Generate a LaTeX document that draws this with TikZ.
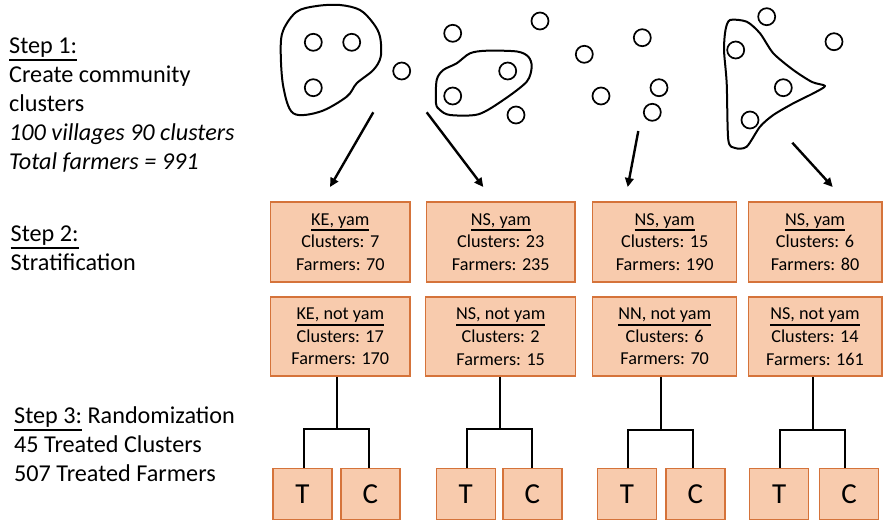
\documentclass[tikz,border=0pt]{standalone}
\usepackage{fontspec}
\setmainfont{Carlito}
\usetikzlibrary{arrows.meta}
\definecolor{boxfill}{HTML}{F8CBAD}
\definecolor{boxline}{HTML}{D5733A}
\newcommand\boxul[1]{\setbox0=\hbox{#1}\leavevmode\rlap{\rule[-6pt]{\wd0}{1.8pt}}\box0\relax}
\newcommand\stepul[1]{\setbox0=\hbox{#1}\leavevmode\rlap{\rule[-7.5pt]{\wd0}{2pt}}\box0\relax}
\begin{document}
\begin{tikzpicture}[x=1pt,y=-1pt,
  lbl/.style={anchor=base west,inner sep=0pt,font=\fontsize{24.2}{29}\selectfont},
  strat/.style={draw=boxline,fill=boxfill,line width=1.5pt,inner sep=0pt,align=center,
     font=\fontsize{18.2}{22.7}\selectfont},
  tc/.style={draw=boxline,fill=boxfill,line width=1.5pt,inner sep=0pt,minimum width=59pt,
     minimum height=51pt,font=\fontsize{29}{34}\selectfont},
  village/.style={line width=1.7pt},
  blob/.style={line width=2pt,line join=round},
  arr/.style={line width=2.4pt,-{Triangle[length=9pt,width=8.5pt]}},
  tree/.style={line width=2pt}]
\useasboundingbox (0,0) rectangle (883,522);
% left labels
\node[lbl] (s1a) at (9,53.5) {\stepul{Step 1:}};
\node[lbl] (s1b) at (9,82.5) {Create community};
\node[lbl] (s1c) at (9,111.5) {clusters};
\node[lbl] (s1d) at (9,140.5) {\itshape 100 villages 90 clusters};
\node[lbl] (s1e) at (9,169.5) {\itshape Total farmers = 991};
\node[lbl] (s2a) at (10.5,241) {\stepul{Step 2:}};
\node[lbl] (s2b) at (10.5,270) {Stratification};
\node[lbl] (s3a) at (14,423.5) {\stepul{Step 3:} Randomization};
\node[lbl] (s3b) at (14,452.5) {45 Treated Clusters};
\node[lbl] (s3c) at (14,481.5) {507 Treated Farmers};
% blobs
\draw[blob] plot[smooth cycle,tension=0.55] coordinates {(293.3,113.3) (283.3,86.7) (280.7,50) (283.3,30) (296.7,11.7) (316.7,6) (340,5) (360,10) (373.3,23.3) (380,36.7) (380.7,56.7) (373.3,70) (356.7,83.3) (346.7,96.7) (320,111.7)};
\draw[blob] plot[smooth cycle,tension=0.5] coordinates {(436.7,80) (436,103.3) (440,110) (450,115) (478.3,114.3) (503.3,100) (526.7,81.7) (531.7,66.7) (528.3,56.7) (517,51.5) (486.7,50.7) (470,53.3) (456.7,63.3) (443.3,70)};
\draw[blob] plot[smooth cycle,tension=0.45] coordinates {(730,20) (725.5,30) (724,50) (726.7,83.3) (728.3,140) (735,148) (746.7,146.7) (760,126.7) (773.3,115) (793.3,103.3) (813.3,93.3) (825,86) (812,82) (793.3,70) (773.3,53.3) (760,33.3) (746.7,21.7)};
% villages
\foreach \p in {(313.3,42.3),(351.7,42.3),(313.3,87.7),(401.7,71),(452.7,33.3),(540,21),(507.7,71),(452.7,96),(516,115),(584.3,54.3),(642.3,37.7),(601,96),(659,87.7),(652.3,112.3),(766.7,16.7),(735.7,50),(834,41.7),(783.3,87.7),(750,120)}
  \draw[village] \p circle (8.5pt);
% arrows
\coordinate (a1s) at (373.3,112.3); \coordinate (a1e) at (330,187);
\coordinate (a2s) at (426.7,112.3); \coordinate (a2e) at (483.3,187);
\coordinate (a3s) at (638.3,131);   \coordinate (a3e) at (627.7,187);
\coordinate (a4s) at (792.3,142.7); \coordinate (a4e) at (832.7,187);
\draw[arr] (a1s) -- (a1e);
\draw[arr] (a2s) -- (a2e);
\draw[arr] (a3s) -- (a3e);
\draw[arr] (a4s) -- (a4e);
% strata boxes
\node[strat,minimum width=139.3pt,minimum height=80pt] (b1) at (340.3,242) {\boxul{KE, yam}\\Clusters: 7\\Farmers: 70};
\node[strat,minimum width=148.3pt,minimum height=80pt] (b2) at (500.8,242) {\boxul{NS, yam}\\Clusters: 23\\Farmers: 235};
\node[strat,minimum width=144pt,minimum height=80pt] (b3) at (664.7,242) {\boxul{NS, yam}\\Clusters: 15\\Farmers: 190};
\node[strat,minimum width=133.5pt,minimum height=80pt] (b4) at (815,242) {\boxul{NS, yam}\\Clusters: 6\\Farmers: 80};
\node[strat,minimum width=139.3pt,minimum height=79pt] (r1) at (340.3,336.5) {\boxul{KE, not yam}\\Clusters: 17\\Farmers: 170};
\node[strat,minimum width=150pt,minimum height=79pt] (r2) at (500.7,336.5) {\boxul{NS, not yam}\\Clusters: 2\\Farmers: 15};
\node[strat,minimum width=144pt,minimum height=79pt] (r3) at (664.7,336.5) {\boxul{NN, not yam}\\Clusters: 6\\Farmers: 70};
\node[strat,minimum width=133.5pt,minimum height=79pt] (r4) at (815,336.5) {\boxul{NS, not yam}\\Clusters: 14\\Farmers: 161};
% T / C boxes
\node[tc] (t1) at (302.5,494) {T};
\node[tc] (c1) at (370.3,494) {C};
\node[tc] (t2) at (465.8,494) {T};
\node[tc] (c2) at (532.3,494) {C};
\node[tc] (t3) at (627,494) {T};
\node[tc] (c3) at (695.3,494) {C};
\node[tc] (t4) at (779.2,494) {T};
\node[tc] (c4) at (849.2,494) {C};
% trees
\coordinate (j1) at (337,429.3);   \coordinate (l1) at (304,429.3);   \coordinate (k1) at (368.7,429.3);
\coordinate (j2) at (500,429.3);   \coordinate (l2) at (467.3,429.3); \coordinate (k2) at (532,429.3);
\coordinate (j3) at (660.7,430.3); \coordinate (l3) at (627.7,430.3); \coordinate (k3) at (693,430.3);
\coordinate (j4) at (813,430.3);   \coordinate (l4) at (780.3,430.3); \coordinate (k4) at (845.3,430.3);
\foreach \i in {1,2,3,4}{
  \draw[tree] (j\i |- r\i.south) -- (j\i);
  \draw[tree] (l\i |- t\i.north) -- (l\i) -- (k\i) -- (k\i |- c\i.north);
}
\end{tikzpicture}
\end{document}
